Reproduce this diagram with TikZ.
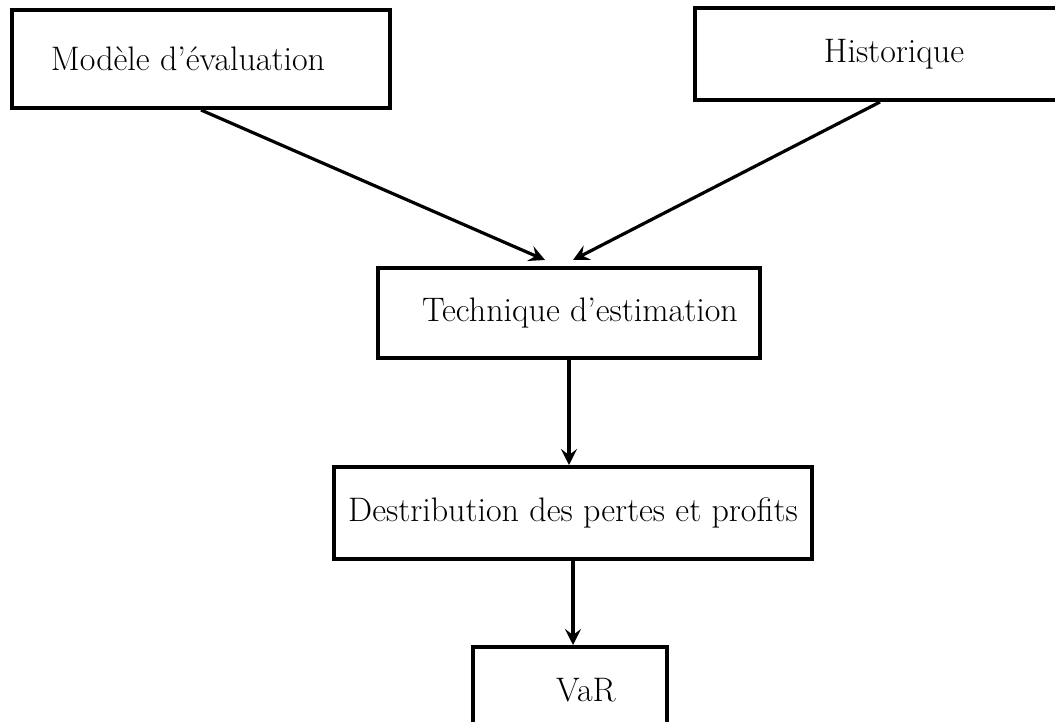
\documentclass[tikz,border=0pt]{standalone}
\usepackage{fontspec}
\usetikzlibrary{arrows.meta}

\begin{document}
\begin{tikzpicture}[x=0.5pt, y=-0.5pt,
    bloc/.style={draw, line width=2pt, inner sep=0pt, font=\fontsize{17}{20}\selectfont},
    fleche/.style={line width=1.6pt, -{Stealth[length=8pt, width=8pt, inset=3pt]}}]
\useasboundingbox (0,0) rectangle (1055,722);

\node[bloc, minimum width=189pt, minimum height=49pt] (modele) at (201,59) {Modèle d’évaluation\hspace*{13pt}};
\node[bloc, minimum width=199pt, minimum height=46pt] (historique) at (894,54) {Historique};
\node[bloc, minimum width=191pt, minimum height=45pt] (technique) at (569,313) {\hspace*{11pt}Technique d’estimation};
\node[bloc, minimum width=239pt, minimum height=46pt] (destribution) at (573,513) {Destribution des pertes et profits};
\node[bloc, minimum width=97pt, minimum height=43pt] (var) at (570,690) {\hspace*{16pt}VaR};

\draw[fleche] (modele.south) -- ([xshift=-12pt, yshift=3pt]technique.north);
\draw[fleche] ([xshift=-7pt]historique.south) -- ([xshift=2pt, yshift=3pt]technique.north);
\draw[fleche] (technique.south) -- (technique.south |- destribution.north);
\draw[fleche] (destribution.south) -- (destribution.south |- var.north);

\end{tikzpicture}
\end{document}
